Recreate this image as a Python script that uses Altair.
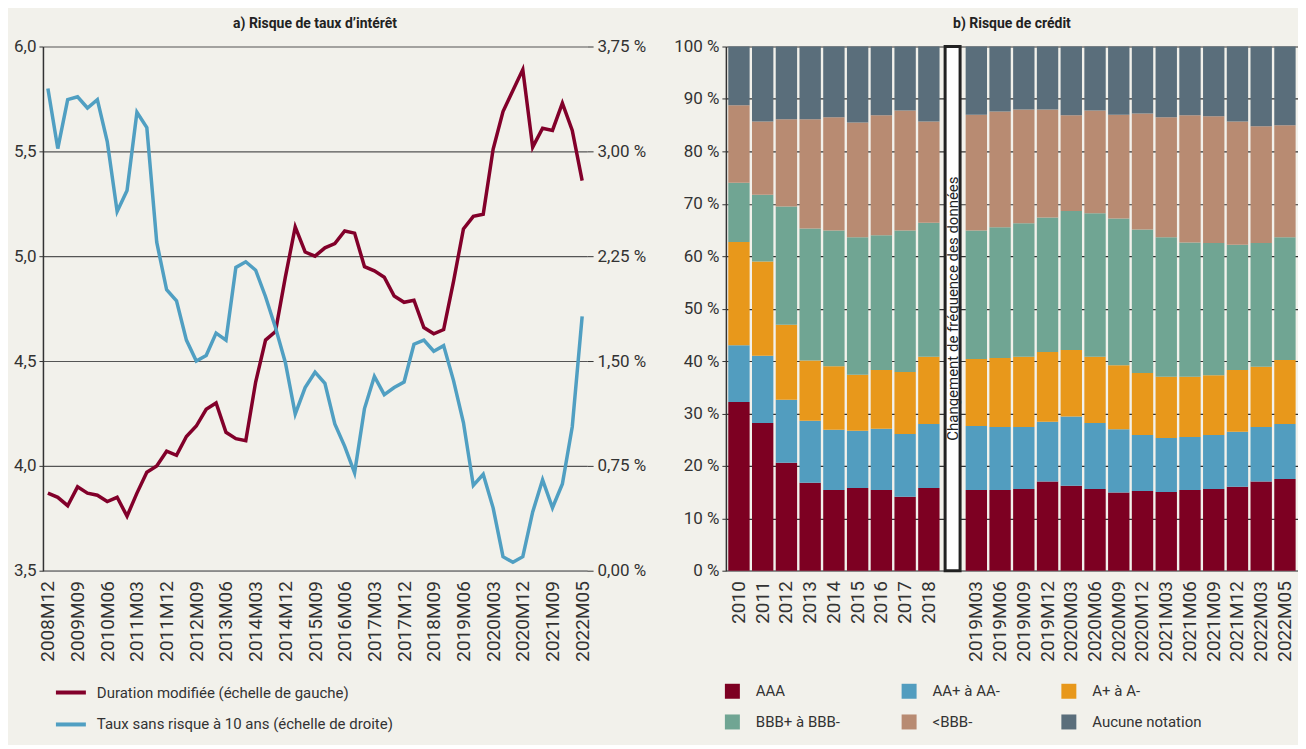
import altair as alt
import pandas as pd

# ---------- Panel a) data ----------
dates = [
    "2008M12", "2009M03", "2009M06", "2009M09", "2009M12", "2010M03", "2010M06", "2010M09",
    "2010M12", "2011M03", "2011M06", "2011M09", "2011M12", "2012M03", "2012M06", "2012M09",
    "2012M12", "2013M03", "2013M06", "2013M09", "2013M12", "2014M03", "2014M06", "2014M09",
    "2014M12", "2015M03", "2015M06", "2015M09", "2015M12", "2016M03", "2016M06", "2016M09",
    "2016M12", "2017M03", "2017M06", "2017M09", "2017M12", "2018M03", "2018M06", "2018M09",
    "2018M12", "2019M03", "2019M06", "2019M09", "2019M12", "2020M03", "2020M06", "2020M09",
    "2020M12", "2021M03", "2021M06", "2021M09", "2021M12", "2022M03", "2022M05",
]
date_labels = [
    "2008M12", "2009M09", "2010M06", "2011M03", "2011M12", "2012M09", "2013M06",
    "2014M03", "2014M12", "2015M09", "2016M06", "2017M03", "2017M12", "2018M09",
    "2019M06", "2020M03", "2020M12", "2021M09", "2022M05",
]
duration = [
    3.87, 3.85, 3.81, 3.90, 3.87, 3.86, 3.83, 3.85, 3.76, 3.87, 3.97, 4.00, 4.07, 4.05,
    4.14, 4.19, 4.27, 4.30, 4.16, 4.13, 4.12, 4.40, 4.60, 4.64, 4.90, 5.14, 5.02, 5.00,
    5.04, 5.06, 5.12, 5.11, 4.95, 4.93, 4.90, 4.81, 4.78, 4.79, 4.66, 4.63, 4.65, 4.88,
    5.13, 5.19, 5.20, 5.51, 5.69, 5.79, 5.89, 5.52, 5.61, 5.60, 5.73, 5.60, 5.36,
]
taux = [
    3.45, 3.02, 3.37, 3.39, 3.31, 3.37, 3.07, 2.57, 2.72, 3.28, 3.17, 2.35, 2.01, 1.93,
    1.65, 1.50, 1.54, 1.70, 1.65, 2.17, 2.21, 2.15, 1.96, 1.74, 1.49, 1.12, 1.31, 1.42,
    1.34, 1.05, 0.89, 0.70, 1.16, 1.39, 1.26, 1.31, 1.35, 1.62, 1.65, 1.57, 1.61, 1.36,
    1.06, 0.61, 0.69, 0.45, 0.10, 0.06, 0.10, 0.42, 0.65, 0.45, 0.62, 1.03, 1.82,
]
series_names = ["Duration modifiée (échelle de gauche)", "Taux sans risque à 10 ans (échelle de droite)"]
series_colors = ["#82002a", "#509fc2"]

# ---------- Panel b) data ----------
years = ["2010", "2011", "2012", "2013", "2014", "2015", "2016", "2017", "2018"]
gap = [" "]
quarters = ["2019M03", "2019M06", "2019M09", "2019M12", "2020M03", "2020M06", "2020M09",
            "2020M12", "2021M03", "2021M06", "2021M09", "2021M12", "2022M03", "2022M05"]
bar_cats = years + quarters
ratings = ["AAA", "AA+ à AA-", "A+ à A-", "BBB+ à BBB-", "<BBB-", "Aucune notation"]
rating_colors = ["#7d0022", "#529dbf", "#e8981b", "#70a593", "#b88b72", "#5a6e7b"]
aaa =  [32.2, 28.2, 20.6, 16.8, 15.4, 15.8, 15.4, 14.1, 15.8,
        15.4, 15.4, 15.6, 17.0, 16.2, 15.6, 14.9, 15.2, 15.0, 15.4, 15.6, 16.0, 17.0, 17.5]
aa =   [10.8, 12.8, 12.0, 11.8, 11.5, 10.9, 11.7, 12.0, 12.2,
        12.2, 12.0, 11.8, 11.4, 13.2, 12.6, 12.1, 10.7, 10.3, 10.1, 10.3, 10.5, 10.4, 10.5]
a =    [19.7, 18.0, 14.3, 11.5, 12.1, 10.7, 11.2, 11.8, 12.8,
        12.8, 13.2, 13.4, 13.3, 12.7, 12.6, 12.2, 11.8, 11.7, 11.5, 11.4, 11.8, 11.5, 12.2]
bbb =  [11.3, 12.7, 22.6, 25.2, 25.9, 26.2, 25.7, 27.0, 25.6,
        24.5, 24.9, 25.5, 25.7, 26.5, 27.4, 28.0, 27.4, 26.6, 25.6, 25.2, 23.9, 23.6, 23.4]
sub =  [14.8, 14.0, 16.6, 20.8, 21.6, 21.9, 22.9, 22.9, 19.3,
        22.1, 22.1, 21.7, 20.6, 18.3, 19.6, 19.8, 22.1, 22.9, 24.3, 24.2, 23.5, 22.3, 21.4]
nr =   [11.2, 14.3, 13.9, 13.9, 13.5, 14.5, 13.1, 12.2, 14.3,
        13.0, 12.4, 12.0, 12.0, 13.1, 12.2, 13.0, 12.8, 13.5, 13.1, 13.3, 14.3, 15.2, 15.0]
gap_text = "Changement de fréquence des données"

FONT = "Roboto"
TXT = "#333333"

# ---------- Panel a ----------
df_a = pd.DataFrame({"date": dates, "duration": duration, "taux": taux})

x_a = alt.X(
    "date:N", sort=None,
    scale=alt.Scale(type="point", domain=dates, padding=0.5),
    axis=alt.Axis(values=date_labels, labelAngle=270, title=None, ticks=False,
                  domainColor="#8a8a8a", domainWidth=1.5, labelFontSize=19, labelPadding=10,
                  labelColor=TXT, grid=False),
)
color_a = alt.Color(
    "s:N",
    scale=alt.Scale(domain=series_names, range=series_colors),
    legend=alt.Legend(orient="none", legendX=11, legendY=630, direction="vertical",
                      symbolType="stroke", symbolStrokeWidth=4, symbolSize=900,
                      labelFontSize=15, labelColor=TXT, labelOffset=9, rowPadding=7,
                      title=None, labelLimit=400),
)

red = alt.Chart(df_a).transform_calculate(s=f"'{series_names[0]}'").mark_line(
    strokeWidth=3.5, strokeJoin="miter"
).encode(
    x=x_a,
    y=alt.Y("duration:Q",
            scale=alt.Scale(domain=[3.5, 6.0], nice=False, zero=False),
            axis=alt.Axis(orient="left", values=[3.5, 4.0, 4.5, 5.0, 5.5, 6.0],
                          labelExpr="replace(format(datum.value, '.1f'), '.', ',')",
                          grid=True, gridColor="#555555", gridWidth=1.2,
                          domainColor="#333333", domainWidth=1.5,
                          tickSize=4, tickColor="#333333", labelFontSize=17,
                          labelColor=TXT, labelPadding=3, title=None)),
    color=color_a,
)
blue = alt.Chart(df_a).transform_calculate(s=f"'{series_names[1]}'").mark_line(
    strokeWidth=3.5, strokeJoin="miter"
).encode(
    x=x_a,
    y=alt.Y("taux:Q",
            scale=alt.Scale(domain=[0, 3.75], nice=False),
            axis=alt.Axis(orient="right", values=[0, 0.75, 1.5, 2.25, 3.0, 3.75],
                          labelExpr="replace(format(datum.value, '.2f'), '.', ',') + ' %'",
                          grid=False, domain=False, tickSize=6, tickColor="#333333",
                          labelFontSize=17, labelColor=TXT, labelPadding=4, title=None)),
    color=color_a,
)
left = alt.layer(red, blue).resolve_scale(y="independent").properties(
    width=545, height=525,
    title=alt.TitleParams("a) Risque de taux d’intérêt", fontSize=14, fontWeight="bold",
                          font=FONT, color="#222222", anchor="middle", offset=7),
)

# ---------- Panel b ----------
rows = []
for i, c in enumerate(bar_cats):
    for j, (r, vals) in enumerate(zip(ratings, [aaa, aa, a, bbb, sub, nr])):
        rows.append({"cat": c, "rating": r, "value": vals[i], "ord": j})
df_b = pd.DataFrame(rows)
all_cats = years + gap + quarters

x_b = alt.X("cat:N", sort=all_cats,
            scale=alt.Scale(domain=all_cats, paddingInner=0.1, paddingOuter=0.1),
            axis=alt.Axis(labelAngle=270, ticks=False, title=None, labelFontSize=19,
                          labelPadding=10, labelColor=TXT, domainColor="#8a8a8a",
                          domainWidth=1.5, grid=False))
y_scale_b = alt.Scale(domain=[0, 100], nice=False)

bars = alt.Chart(df_b).mark_bar().encode(
    x=x_b,
    y=alt.Y("value:Q", stack="zero", scale=y_scale_b,
            axis=alt.Axis(values=list(range(0, 101, 10)), labelExpr="datum.value + ' %'",
                          grid=True, gridColor="#333333", gridWidth=1.2, tickSize=4,
                          tickColor="#333333", domainColor="#333333", domainWidth=1.5,
                          labelFontSize=17, labelColor=TXT, labelPadding=3, title=None)),
    color=alt.Color("rating:N", scale=alt.Scale(domain=ratings, range=rating_colors),
                    legend=alt.Legend(orient="none", legendX=-1, legendY=638, columns=3,
                                      direction="horizontal",
                                      symbolType="square", symbolSize=225,
                                      symbolStrokeWidth=0, labelFontSize=15,
                                      labelColor=TXT, labelOffset=16, columnPadding=61,
                                      rowPadding=15, title=None, gridAlign="each")),
    order=alt.Order("ord:Q", sort="ascending"),
)

df_gap = pd.DataFrame({"cat": gap, "y0": [0], "y1": [100], "mid": [50], "label": [gap_text]})
box = alt.Chart(df_gap).mark_bar(fill="white", stroke="#222222", strokeWidth=3, width=15).encode(
    x=alt.X("cat:N", sort=all_cats),
    y=alt.Y("y0:Q", scale=y_scale_b),
    y2="y1:Q",
)
gap_label = alt.Chart(df_gap).mark_text(angle=270, fontSize=15, font=FONT, color="#222222").encode(
    x=alt.X("cat:N", sort=all_cats),
    y=alt.Y("mid:Q", scale=y_scale_b),
    text="label:N",
)
right = alt.layer(bars, box, gap_label).properties(
    width=573, height=525,
    title=alt.TitleParams("b) Risque de crédit", fontSize=14, fontWeight="bold",
                          font=FONT, color="#222222", anchor="middle", offset=7),
)

chart = alt.hconcat(left, right, spacing=27).resolve_scale(color="independent").configure(
    background="#f2f1eb", font=FONT, padding={"left": 5, "top": 8, "right": 0, "bottom": 12},
).configure_view(stroke=None).configure_axis(labelFont=FONT).configure_legend(labelFont=FONT)

chart.save("out.html", embed_options={"renderer": "svg", "actions": False})
